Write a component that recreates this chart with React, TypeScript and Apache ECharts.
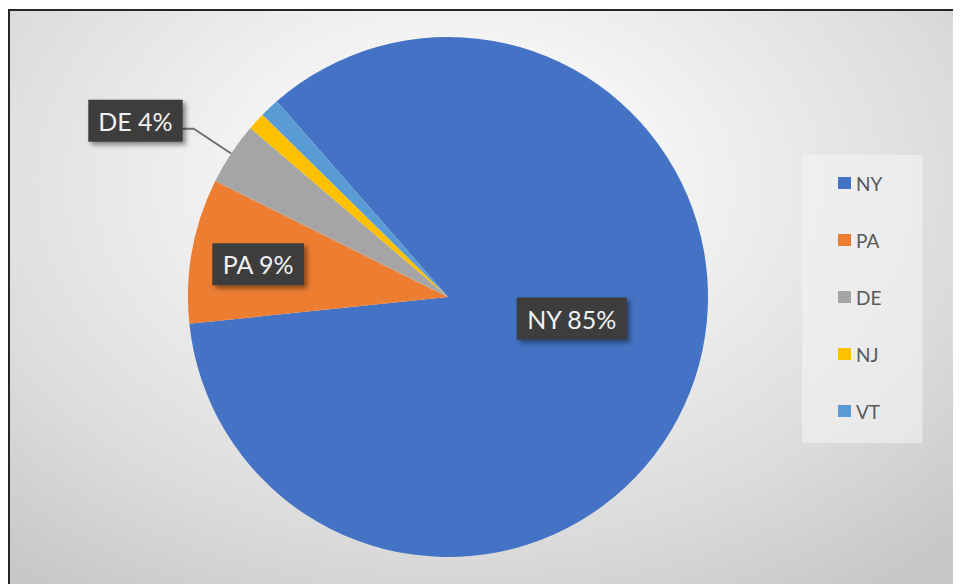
import React, { useEffect, useRef } from "react";
import * as echarts from "echarts";

const categories = ["NY", "PA", "DE", "NJ", "VT"];
const values = [84.8, 9.0, 3.9, 1.1, 1.2];
const colors = ["#4472C4", "#ED7D31", "#A5A5A5", "#FFC000", "#5B9BD5"];
// label mode per category: inside, outside, or hidden
const labelModes = ["inside", "inside", "outside", "none", "none"];
// small nudges for labels (Excel "best fit" placement)
const labelNudges: Record<number, [number, number]> = { 0: [0, -27], 1: [-59, -9], 2: [6, -8] };

export default function App() {
  const ref = useRef<HTMLDivElement>(null);

  useEffect(() => {
    document.documentElement.style.overflow = "hidden";
    document.body.style.overflow = "hidden";
    const chart = echarts.init(ref.current!, null, { renderer: "svg" });

    const labelBox = {
      color: "#f2f2f2",
      fontFamily: "Lato",
      fontSize: 25,
      lineHeight: 28,
      backgroundColor: "#3e3e3e",
      padding: [7, 10, 7, 10],
      shadowColor: "rgba(0,0,0,0.45)",
      shadowBlur: 5,
      shadowOffsetX: 3,
      shadowOffsetY: 3,
      formatter: (p: any) => `${p.name} ${Math.round(p.percent)}%`,
    };

    const data = categories.map((name, i) => {
      const mode = labelModes[i];
      return {
        name,
        value: values[i],
        itemStyle: { color: colors[i] },
        label:
          mode === "none"
            ? { show: false }
            : { show: true, position: mode, ...labelBox },
        labelLine: { show: mode === "outside" },
      };
    });

    chart.setOption({
      animation: false,
      legend: {
        orient: "vertical",
        left: 792,
        top: 144,
        padding: [18, 40, 22, 36],
        backgroundColor: "rgba(244,244,244,0.6)",
        itemGap: 37,
        itemWidth: 13,
        itemHeight: 12,
        icon: "rect",
        selectedMode: false,
        data: categories,
        textStyle: {
          fontFamily: "Lato",
          fontSize: 19,
          lineHeight: 20,
          color: "#595959",
        },
      },
      series: [
        {
          type: "pie",
          center: [438, 286],
          radius: 260,
          startAngle: 131.2,
          clockwise: true,
          avoidLabelOverlap: false,
          emphasis: { disabled: true },
          labelLine: {
            length: 45,
            length2: 12,
            smooth: false,
            lineStyle: { color: "#6f6f6f", width: 2 },
          },
          labelLayout: (params: any) => {
            const n = labelNudges[params.dataIndex];
            return n ? { dx: n[0], dy: n[1] } : {};
          },
          data,
        },
      ],
    });

    return () => chart.dispose();
  }, []);

  return (
    <div
      style={{
        position: "relative",
        top: 1,
        width: 1000,
        height: 620,
        borderTop: "2px solid #262626",
        borderLeft: "2px solid #262626",
        boxSizing: "border-box",
        background:
          "radial-gradient(ellipse 72% 82% at 45% 28%, #ffffff 0%, #f3f3f3 30%, #dcdcdc 70%, #c6c6c6 100%)",
      }}
    >
      <div ref={ref} style={{ width: 998, height: 618 }} />
    </div>
  );
}
